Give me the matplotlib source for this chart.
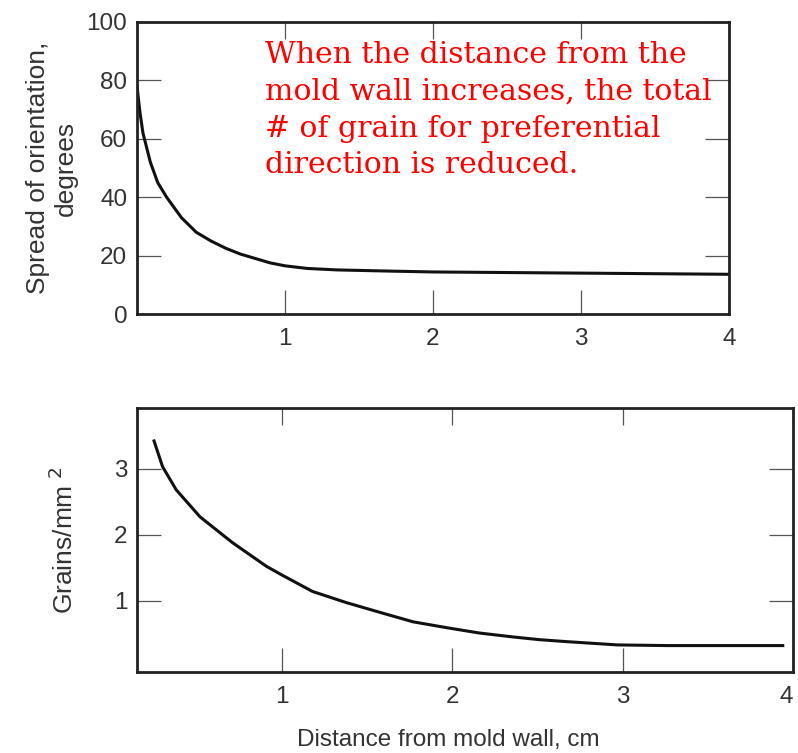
import matplotlib
matplotlib.use("Agg")
import matplotlib.pyplot as plt

# valores
dist_top = [0.0, 0.02, 0.04, 0.09, 0.14, 0.2, 0.3, 0.4, 0.5, 0.6, 0.7, 0.8, 0.9,
            1.0, 1.15, 1.35, 1.7, 2.0, 2.5, 3.0, 3.5, 4.0]
spread = [78, 69, 62, 52, 45, 40, 33, 28, 25, 22.5, 20.5, 19, 17.5,
          16.5, 15.6, 15.1, 14.7, 14.4, 14.2, 14.0, 13.8, 13.6]

dist_bot = [0.25, 0.30, 0.38, 0.52, 0.71, 0.91, 1.0, 1.18, 1.38, 1.58, 1.77, 1.97,
            2.16, 2.36, 2.51, 2.67, 2.97, 3.26, 3.94]
grains = [3.42, 3.03, 2.68, 2.27, 1.88, 1.52, 1.39, 1.14, 0.97, 0.82, 0.68, 0.59,
          0.51, 0.45, 0.41, 0.38, 0.33, 0.32, 0.32]

top_yticks = [0, 20, 40, 60, 80, 100]
bot_yticks = [1, 2, 3]
xticks = [1, 2, 3, 4]

note = ("When the distance from the\nmold wall increases, the total\n"
        "# of grain for preferential\ndirection is reduced.")

plt.rcParams["font.family"] = ["Liberation Sans", "DejaVu Sans"]
txt = "#333333"

fig = plt.figure(figsize=(7.98, 7.53), dpi=100)
ax1 = fig.add_axes([0.1717, 0.583, 0.9135 - 0.1717, 0.9708 - 0.583])
ax2 = fig.add_axes([0.1717, 0.1076, 0.9937 - 0.1717, 0.4582 - 0.1076])


def estilo(ax):
    for s in ax.spines.values():
        s.set_linewidth(2.0)
        s.set_color("#222222")
    ax.tick_params(direction="in", length=17, width=0.9, color="#555555",
                   top=True, right=True, labelsize=17.5, labelcolor=txt)
    ax.tick_params(axis="x", pad=10)
    ax.tick_params(axis="y", pad=7)


# painel de cima
ax1.plot(dist_top, spread, color="#111111", lw=2.2)
ax1.set_xlim(0, 4)
ax1.set_ylim(0, 100)
ax1.set_xticks(xticks)
ax1.set_yticks(top_yticks)
estilo(ax1)
ax1.set_ylabel("Spread of orientation,\ndegrees", fontsize=19, color=txt,
               linespacing=1.2, labelpad=6)
ax1.text(0.217, 0.935, note, transform=ax1.transAxes, color="red", fontsize=21.5,
         family="DejaVu Serif", va="top", ha="left", linespacing=1.4)

# painel de baixo
ax2.plot(dist_bot, grains, color="#111111", lw=2.2)
ax2.set_xlim(0.15, 4.0)
ax2.set_ylim(-0.08, 3.92)
ax2.set_xticks(xticks)
ax2.set_yticks(bot_yticks)
estilo(ax2)
ax2.set_ylabel("Grains/mm$^{\\ 2}$", fontsize=19, color=txt, labelpad=26)
ax2.set_xlabel("Distance from mold wall, cm", fontsize=17.5, color=txt)
ax2.xaxis.set_label_coords(0.474, -0.215)

# o "4" de baixo fica rente à borda
ax2.get_xticklabels()[-1].set_horizontalalignment("right")

# marcas superiores mais curtas
for ax in (ax1, ax2):
    for t in ax.xaxis.get_major_ticks():
        t.tick2line.set_markersize(12)

fig.savefig("out.png", dpi=100)
